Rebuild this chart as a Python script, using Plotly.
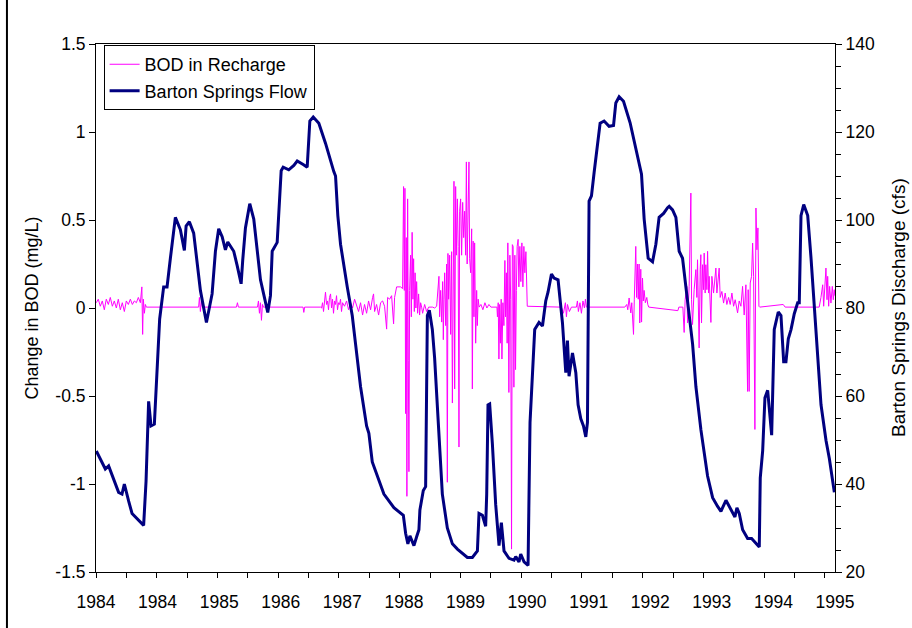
import plotly.graph_objects as go

# ---------------- data ----------------
# Barton Springs flow (cfs) vs decimal year
flow_year = [
    1984.005, 1984.151, 1984.205, 1984.367, 1984.422, 1984.460, 1984.530, 1984.585, 1984.773, 1984.812,
    1984.854, 1984.893, 1984.947, 1984.991, 1985.033, 1985.098, 1985.153, 1985.207, 1985.288, 1985.369,
    1985.434, 1985.462, 1985.515, 1985.585, 1985.694, 1985.792, 1985.884, 1985.938, 1985.991, 1986.047,
    1986.100, 1986.138, 1986.235, 1986.290, 1986.355, 1986.381, 1986.425, 1986.495, 1986.560, 1986.669,
    1986.722, 1986.787, 1986.831, 1986.859, 1986.940, 1986.966, 1987.005, 1987.037, 1987.128, 1987.210,
    1987.265, 1987.362, 1987.427, 1987.470, 1987.525, 1987.616, 1987.725, 1987.859, 1987.887, 1987.924,
    1987.968, 1988.077, 1988.158, 1988.212, 1988.293, 1988.391, 1988.428, 1988.483, 1988.590, 1988.672,
    1988.834, 1988.987, 1989.024, 1989.061, 1989.094, 1989.159, 1989.203, 1989.240, 1989.256, 1989.311,
    1989.349, 1989.377, 1989.409, 1989.458, 1989.495, 1989.565, 1989.620, 1989.701, 1989.783, 1989.864,
    1990.026, 1990.107, 1990.189, 1990.215, 1990.270, 1990.323, 1990.340, 1990.361, 1990.388, 1990.432,
    1990.486, 1990.540, 1990.578, 1990.621, 1990.702, 1990.783, 1990.811, 1990.864, 1990.892, 1990.946,
    1991.011, 1991.043, 1991.082, 1991.119, 1991.189, 1991.245, 1991.298, 1991.335, 1991.391, 1991.433,
    1991.498, 1991.569, 1991.623, 1991.650, 1991.676, 1991.732, 1991.786, 1991.823, 1991.867, 1991.910,
    1991.948, 1991.975, 1992.001, 1992.040, 1992.083, 1992.126, 1992.180, 1992.245, 1992.326, 1992.398,
    1992.435, 1992.489, 1992.560, 1992.667, 1992.760, 1992.852, 1992.895, 1992.960, 1993.031, 1993.085,
    1993.138, 1993.210, 1993.275, 1993.301, 1993.356, 1993.410, 1993.463, 1993.518, 1993.572, 1993.626,
    1993.681, 1993.735, 1993.816, 1993.924, 1994.006, 1994.087, 1994.141, 1994.222, 1994.303, 1994.368,
    1994.400, 1994.438, 1994.493, 1994.574, 1994.639, 1994.709, 1994.763, 1994.779, 1994.818, 1994.855,
    1994.899, 1994.964, 1995.006, 1995.071, 1995.115, 1995.159, 1995.196, 1995.234, 1995.278, 1995.331,
    1995.386, 1995.412, 1995.440, 1995.484, 1995.549, 1995.603, 1995.684, 1995.765, 1995.846, 1995.900,
    1995.981,
]
flow_cfs = [
    47.5, 43.4, 44.1, 38.1, 37.7, 40.0, 36.1, 33.3, 30.6, 40.6,
    58.8, 53.2, 53.6, 66.1, 77.5, 84.8, 84.8, 91.3, 100.6, 97.8,
    93.1, 98.6, 99.6, 97.0, 84.0, 76.7, 83.2, 92.9, 98.0, 96.2,
    93.2, 95.0, 92.9, 89.7, 85.5, 90.9, 98.2, 103.7, 100.2, 86.4,
    82.8, 79.0, 82.8, 92.9, 94.9, 101.0, 111.2, 112.0, 111.4, 112.4,
    113.4, 112.6, 112.0, 122.5, 123.4, 122.0, 117.4, 111.0, 110.0, 101.0,
    94.5, 84.8, 78.3, 71.8, 62.1, 53.2, 51.5, 45.0, 40.6, 37.7,
    34.6, 32.9, 28.8, 26.4, 28.2, 26.0, 28.0, 29.6, 34.1, 38.5,
    39.4, 78.3, 79.5, 75.1, 68.6, 49.9, 37.7, 30.0, 26.4, 25.2,
    23.3, 23.3, 24.8, 33.3, 32.9, 30.4, 37.7, 58.0, 58.2, 49.1,
    35.3, 26.0, 31.2, 24.8, 23.1, 22.7, 23.5, 22.3, 24.1, 22.3,
    21.5, 54.0, 66.1, 75.1, 76.7, 75.9, 81.6, 83.6, 87.7, 86.8,
    86.4, 76.7, 65.3, 72.6, 64.5, 69.8, 65.3, 58.0, 54.8, 53.2,
    50.7, 54.0, 104.3, 105.5, 110.8, 115.7, 122.0, 122.5, 121.3, 121.5,
    126.6, 128.0, 127.0, 122.1, 116.5, 110.4, 100.2, 91.3, 90.5, 94.5,
    100.6, 101.5, 102.8, 103.1, 102.3, 100.6, 92.9, 91.3, 84.8, 78.3,
    71.8, 62.1, 52.3, 41.8, 36.9, 34.9, 33.8, 36.3, 34.1, 32.5,
    34.6, 33.3, 29.6, 27.6, 27.6, 26.4, 25.7, 41.4, 47.5, 59.6,
    61.3, 51.1, 75.1, 79.1, 78.3, 67.8, 67.8, 73.0, 75.1, 78.7,
    81.2, 81.2, 101.0, 103.5, 101.0, 91.3, 74.3, 58.0, 49.9, 45.8,
    38.1,
]

# Change in BOD in recharge (mg/L) vs decimal year
bod_year = [
    1984.005, 1984.037, 1984.070, 1984.102, 1984.135, 1984.167, 1984.200, 1984.232, 1984.265, 1984.297,
    1984.330, 1984.362, 1984.395, 1984.427, 1984.460, 1984.492, 1984.525, 1984.557, 1984.590, 1984.622,
    1984.655, 1984.687, 1984.720, 1984.744, 1984.757, 1984.768, 1984.785, 1984.801, 1984.817,
    1985.665, 1985.678, 1985.694, 1985.710, 1985.727,
    1986.279, 1986.295, 1986.311,
    1986.620, 1986.636, 1986.652, 1986.669, 1986.685, 1986.701, 1986.717,
    1987.360, 1987.372, 1987.385,
    1987.644, 1987.660, 1987.676, 1987.692, 1987.708, 1987.724, 1987.741, 1987.757, 1987.773, 1987.789,
    1987.806, 1987.822, 1987.838, 1987.854, 1987.871, 1987.887, 1987.903, 1987.919, 1987.936, 1987.952,
    1987.968, 1987.984, 1988.001, 1988.033, 1988.066, 1988.098, 1988.131, 1988.163, 1988.196, 1988.228,
    1988.261, 1988.293, 1988.326, 1988.358, 1988.391, 1988.423, 1988.456, 1988.488, 1988.504, 1988.521,
    1988.553, 1988.586, 1988.618, 1988.651, 1988.683, 1988.716, 1988.732, 1988.764, 1988.797, 1988.829,
    1988.845, 1988.878, 1988.910, 1988.943, 1988.975,
    1988.991, 1989.003, 1989.013, 1989.024, 1989.035, 1989.045, 1989.057, 1989.068, 1989.078, 1989.089,
    1989.105, 1989.117, 1989.130, 1989.143, 1989.154, 1989.165, 1989.178, 1989.191, 1989.203, 1989.219,
    1989.235, 1989.251, 1989.268, 1989.284,
    1989.300, 1989.333, 1989.365, 1989.398, 1989.463, 1989.495, 1989.528,
    1989.565, 1989.576, 1989.593, 1989.609, 1989.625, 1989.636, 1989.646, 1989.658, 1989.674, 1989.690,
    1989.701, 1989.711, 1989.722, 1989.739, 1989.755, 1989.771, 1989.783, 1989.796, 1989.809, 1989.820,
    1989.836, 1989.847, 1989.864, 1989.877, 1989.890, 1989.901, 1989.917, 1989.933, 1989.950, 1989.966,
    1989.982, 1989.998, 1990.010, 1990.023, 1990.036, 1990.052, 1990.063, 1990.080, 1990.096, 1990.107,
    1990.120, 1990.133, 1990.144, 1990.161, 1990.177, 1990.188, 1990.201, 1990.217,
    1990.246, 1990.278, 1990.311, 1990.343, 1990.376, 1990.408, 1990.506,
    1990.514, 1990.527, 1990.538, 1990.550, 1990.562, 1990.575, 1990.587, 1990.603, 1990.619, 1990.635,
    1990.646, 1990.659, 1990.672, 1990.683, 1990.700, 1990.716, 1990.729, 1990.743, 1990.756, 1990.769,
    1990.781, 1990.797, 1990.808, 1990.821, 1990.834, 1990.850, 1990.862, 1990.878, 1990.894, 1990.911,
    1990.927, 1990.943, 1990.959, 1990.976, 1990.987, 1990.998,
    1991.536, 1991.552, 1991.585, 1991.617, 1991.634, 1991.650, 1991.682, 1991.715,
    1991.796, 1991.812, 1991.828, 1991.853, 1991.877, 1991.902, 1991.926, 1991.942, 1991.958,
    1992.581, 1992.613, 1992.629, 1992.651, 1992.662, 1992.678, 1992.694, 1992.722, 1992.735, 1992.759,
    1992.772, 1992.786, 1992.799, 1992.813, 1992.824, 1992.840, 1992.853, 1992.868, 1992.881, 1992.894,
    1992.914, 1992.938, 1992.954, 1992.970,
    1993.442, 1993.458, 1993.523,
    1993.544, 1993.560, 1993.588, 1993.599, 1993.625, 1993.653, 1993.664, 1993.680, 1993.706, 1993.734,
    1993.750, 1993.761, 1993.787, 1993.804, 1993.815, 1993.826, 1993.843, 1993.859, 1993.869, 1993.885,
    1993.896, 1993.913, 1993.924, 1993.940, 1993.950, 1993.978, 1993.994, 1994.021, 1994.059, 1994.075,
    1994.096, 1994.112, 1994.129, 1994.156, 1994.184, 1994.210, 1994.237, 1994.265, 1994.291, 1994.319,
    1994.346, 1994.372, 1994.411, 1994.437, 1994.465, 1994.492, 1994.518, 1994.546, 1994.573, 1994.583,
    1994.599, 1994.616, 1994.638, 1994.655, 1994.671, 1994.692, 1994.709, 1994.725, 1994.741, 1994.757,
    1994.770,
    1995.151, 1995.183, 1995.735,
    1995.764, 1995.792, 1995.808, 1995.829, 1995.845, 1995.862, 1995.873, 1995.889, 1995.905, 1995.926,
    1995.948, 1995.964, 1995.980, 1995.990,
]
bod_change = [
    0.03, 0.05, 0.01, 0.04, -0.01, 0.05, 0.02, 0.06, 0.01, 0.04,
    0.00, 0.05, -0.01, 0.03, -0.02, 0.04, 0.02, 0.05, 0.02, 0.04,
    0.03, 0.06, 0.03, 0.12, -0.15, 0.05, -0.03, 0.02, 0.005,
    0.005, 0.06, -0.02, 0.04, 0.005,
    0.005, 0.03, 0.005,
    0.005, 0.04, -0.03, 0.03, -0.07, 0.02, 0.005,
    0.005, -0.025, 0.005,
    0.005, 0.00, 0.03, -0.02, 0.05, 0.09, 0.02, 0.04, -0.01, 0.06,
    0.08, 0.00, 0.05, -0.03, 0.04, 0.02, 0.07, -0.01, 0.03, 0.02,
    0.05, -0.02, 0.03, 0.01, 0.04, -0.01, 0.03, 0.00, 0.05, 0.02,
    -0.02, 0.03, -0.04, 0.02, -0.03, 0.04, -0.01, 0.06, 0.08, -0.02,
    0.02, -0.04, 0.03, 0.04, 0.01, -0.12, 0.06, 0.05, 0.07, -0.09,
    0.06, 0.12, 0.12, 0.12, 0.11,
    0.69, 0.10, 0.68, -0.60, 0.40, -1.07, 0.62, -0.30, -0.93, 0.10,
    0.30, -0.05, 0.43, 0.05, 0.28, -0.02, 0.20, 0.00, 0.15, -0.03,
    0.08, -0.04, 0.03, 0.005,
    -0.03, 0.02, -0.02, 0.005, 0.005, 0.00, 0.01,
    0.18, -0.05, 0.10, -0.08, 0.15, -0.18, 0.05, 0.20, -0.10, 0.25,
    -0.99, 0.31, 0.05, 0.30, -0.15, 0.32, -0.54, 0.30, 0.72, -0.46,
    0.69, 0.30, 0.62, 0.35, -0.79, 0.55, 0.62, 0.30, 0.60, 0.40,
    0.55, 0.30, 0.83, 0.25, 0.50, 0.83, 0.28, 0.20, 0.45, -0.46,
    0.38, -0.05, 0.37, -0.20, 0.10, -0.10, 0.05, 0.005,
    0.02, -0.01, 0.03, 0.00, 0.02, 0.005, 0.005,
    -0.05, 0.03, -0.29, 0.02, -0.20, 0.05, -0.29, 0.03, -0.10, 0.27,
    -0.05, 0.20, -0.20, 0.37, -0.48, 0.30, 0.05, -1.37, 0.36, 0.35,
    -0.45, 0.30, -0.35, 0.10, 0.35, 0.39, 0.12, 0.35, 0.15, 0.37,
    0.12, 0.35, 0.20, 0.32, 0.10, 0.01,
    0.005, 0.005, -0.03, 0.03, -0.05, 0.02, -0.02, 0.005,
    0.005, 0.04, -0.02, 0.03, -0.03, 0.04, 0.00, 0.05, 0.005,
    0.005, 0.02, -0.01, 0.057, 0.00, -0.028, 0.03, -0.15, 0.05, 0.35,
    0.06, 0.25, 0.05, 0.25, -0.085, 0.22, -0.08, 0.17, 0.04, 0.10,
    0.03, 0.06, 0.02, 0.005,
    -0.015, 0.005, 0.005,
    -0.139, 0.047, 0.123, -0.085, 0.123, 0.653, 0.047, -0.094, 0.104, 0.218,
    0.06, 0.274, -0.227, 0.218, 0.303, -0.085, 0.246, 0.104, 0.312, 0.085,
    0.246, 0.104, 0.322, 0.085, 0.18, -0.082, 0.18, 0.085, 0.227, 0.085,
    0.18, 0.227, 0.06, 0.094, 0.028, 0.085, 0.02, 0.06, 0.02, 0.085,
    0.01, 0.047, -0.028, 0.04, 0.01, 0.123, -0.04, 0.132, -0.474, 0.104,
    -0.474, 0.142, 0.18, 0.369, 0.18, -0.69, 0.568, 0.331, 0.455, 0.01,
    0.005,
    0.02, 0.005, 0.005,
    0.06, 0.132, 0.01, 0.104, 0.227, 0.047, 0.18, 0.01, 0.123, 0.028,
    0.123, 0.047, 0.104, 0.07,
]

# axis ticks / labels
x_label_positions = [1984 + k * 365 / 365.25 for k in range(13)]
x_tick_labels = ["1984", "1984", "1985", "1986", "1987", "1988", "1989",
                 "1990", "1991", "1992", "1993", "1994", "1995"]
x_minor_positions = [1984 + k * 180 / 365.25 for k in range(25)]
x_range = [1984, 1984 + 4380 / 365.25]

y_left_ticks = [1.5, 1.0, 0.5, 0.0, -0.5, -1.0, -1.5]
y_left_labels = ["1.5", "1", "0.5", "0", "-0.5", "-1", "-1.5"]
y_right_ticks = [20, 40, 60, 80, 100, 120, 140]
y_right_labels = ["20", "40", "60", "80", "100", "120", "140"]

FONT = "Arial, 'Liberation Sans', sans-serif"
TICK_SIZE = 17.5

fig = go.Figure()
fig.add_trace(go.Scatter(
    x=bod_year, y=bod_change, name="BOD in Recharge", mode="lines",
    line=dict(color="#FF00FF", width=1), yaxis="y"))
fig.add_trace(go.Scatter(
    x=flow_year, y=flow_cfs, name="Barton Springs Flow", mode="lines",
    line=dict(color="#000080", width=3), yaxis="y2"))

fig.update_layout(
    width=912, height=628, autosize=False,
    margin=dict(l=96, r=77, t=44, b=56, pad=0),
    paper_bgcolor="white", plot_bgcolor="white",
    font=dict(family=FONT, size=17, color="black"),
    showlegend=True,
    legend=dict(x=0.0103, y=0.998, xanchor="left", yanchor="top",
                bgcolor="white", bordercolor="black", borderwidth=1,
                font=dict(family=FONT, size=18, color="black"),
                tracegroupgap=0),
    xaxis=dict(range=x_range, tickmode="array", tickvals=x_label_positions,
               ticktext=x_tick_labels, ticks="", showgrid=False, zeroline=False,
               showline=True, linecolor="black", linewidth=1, mirror=True,
               tickfont=dict(size=TICK_SIZE), ticklabelstandoff=14,
               minor=dict(tickmode="array", tickvals=x_minor_positions,
                          ticks="outside", ticklen=5, tickcolor="black",
                          tickwidth=1, showgrid=False)),
    yaxis=dict(range=[-1.5, 1.5], tickmode="array", tickvals=y_left_ticks,
               ticktext=y_left_labels, ticks="outside", ticklen=6,
               tickcolor="black", showgrid=False, zeroline=False,
               showline=True, linecolor="black", linewidth=1,
               tickfont=dict(size=TICK_SIZE),
               title=dict(text="Change in BOD (mg/L)", font=dict(size=18),
                          standoff=12)),
    yaxis2=dict(range=[20, 140], overlaying="y", side="right",
                tickmode="array", tickvals=y_right_ticks,
                ticktext=y_right_labels, ticks="outside", ticklen=6,
                tickcolor="black", showgrid=False, zeroline=False,
                showline=True, linecolor="black", linewidth=1,
                tickfont=dict(size=TICK_SIZE),
                minor=dict(tickmode="linear", tick0=20, dtick=5,
                           ticks="outside", ticklen=5, tickcolor="black",
                           showgrid=False)),
    annotations=[dict(text="Barton Springs Discharge (cfs)", xref="paper",
                      yref="paper", x=(898 - 96) / 739, y=0.5,
                      xanchor="center", yanchor="middle", textangle=-90,
                      showarrow=False, font=dict(family=FONT, size=19,
                                                 color="black"))],
    shapes=[dict(type="line", xref="paper", yref="paper",
                 x0=-0.1205, x1=-0.1205, y0=-0.2, y1=1.2,
                 line=dict(color="black", width=2))],
)

fig.write_html("out.html")
